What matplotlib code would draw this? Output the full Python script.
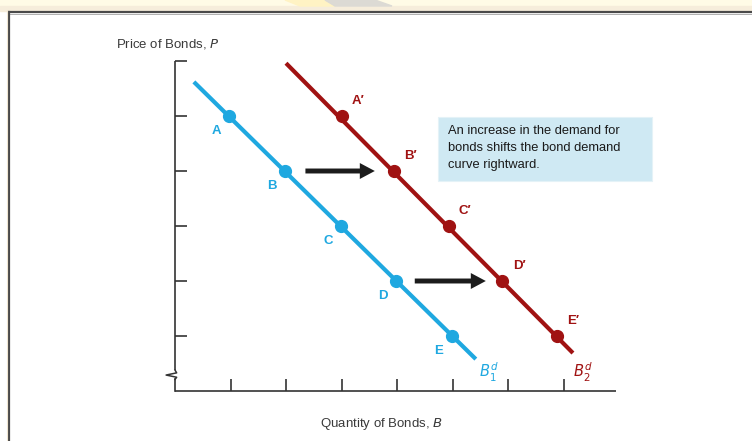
import numpy as np
import matplotlib
matplotlib.use("Agg")
import matplotlib.pyplot as plt
from matplotlib.patches import Rectangle, Polygon
from matplotlib.lines import Line2D

plt.rcParams['font.family'] = ['Liberation Sans', 'DejaVu Sans']

# demand points (quantity, price)
price_levels = [5, 4, 3, 2, 1]
qty_d1 = [0.98, 1.98, 2.99, 3.98, 4.99]
qty_d2 = [3.0, 3.95, 4.93, 5.9, 6.88]
labels_d1 = ['A', 'B', 'C', 'D', 'E']
labels_d2 = ['A\u2032', 'B\u2032', 'C\u2032', 'D\u2032', 'E\u2032']

# full extent of each demand curve
d1_line_q = [0.34, 5.42]
d1_line_p = [5.62, 0.58]
d2_line_q = [2.0, 7.17]
d2_line_p = [5.96, 0.69]

# shift arrows (start q, end q, price)
arrows = [(2.35, 3.6, 4), (4.32, 5.6, 2)]

x_ticks = [1, 2, 3, 4, 5, 6, 7]
y_ticks = [1, 2, 3, 4, 5, 6]

blue = '#1fa8e0'
red = '#a01212'
axis_col = '#333333'

W, H = 752, 441
x0_px, y0_px = 175, 391
sx, sy = 55.5, 55.0

fig = plt.figure(figsize=(W / 100, H / 100), dpi=100)
ax = fig.add_axes([0, 0, 1, 1])
ax.set_xlim(-x0_px / sx, (W - x0_px) / sx)
ax.set_ylim(-(H - y0_px) / sy, y0_px / sy)
ax.set_axis_off()

# page strip and frame
fig.add_artist(Rectangle((0, 1 - 6 / H), 1, 6 / H, transform=fig.transFigure,
                         color='#fffbe6', zorder=0))
fig.add_artist(Rectangle((0, 1 - 11 / H), 1, 5 / H, transform=fig.transFigure,
                         color='#f6eddb', zorder=0))
fig.add_artist(Polygon([(285 / W, 1), (325 / W, 1), (335 / W, 1 - 6 / H), (300 / W, 1 - 6 / H)],
                       closed=True, transform=fig.transFigure, color='#fff3c4', zorder=0))
fig.add_artist(Polygon([(325 / W, 1), (375 / W, 1), (392 / W, 1 - 6 / H), (335 / W, 1 - 6 / H)],
                       closed=True, transform=fig.transFigure, color='#dcdad4', zorder=0))
fig.add_artist(Line2D([9 / W, 1], [1 - 12 / H, 1 - 12 / H], transform=fig.transFigure,
                      color='#4a4a4a', lw=1.6))
fig.add_artist(Line2D([9 / W, 1], [1 - 13.8 / H, 1 - 13.8 / H], transform=fig.transFigure,
                      color='#b0b0b0', lw=0.7))
fig.add_artist(Line2D([9 / W, 9 / W], [0, 1 - 12 / H], transform=fig.transFigure,
                      color='#4a4a4a', lw=1.6))
fig.add_artist(Line2D([7 / W, 7 / W], [0, 1 - 11 / H], transform=fig.transFigure,
                      color='#f0e6d2', lw=0.8))

# axes with break mark
ax.plot([0, 0], [6, 0.38], color=axis_col, lw=1.2, solid_capstyle='butt')
ax.plot([0, 0.03, -0.16, 0.03, 0], [0.38, 0.33, 0.29, 0.25, 0.21], color=axis_col, lw=1.1)
ax.plot([0, 0], [0.21, 0], color=axis_col, lw=1.2)
ax.plot([0, 7.95], [0, 0], color=axis_col, lw=1.2, solid_capstyle='butt')
for t in y_ticks:
    ax.plot([0, 0.22], [t, t], color=axis_col, lw=1.2, solid_capstyle='butt')
for t in x_ticks:
    ax.plot([t, t], [0, 0.22], color=axis_col, lw=1.2, solid_capstyle='butt')

# demand curves
ax.plot(d1_line_q, d1_line_p, color=blue, lw=3.0, solid_capstyle='butt')
ax.plot(d2_line_q, d2_line_p, color=red, lw=3.0, solid_capstyle='butt')
ax.plot(qty_d1, price_levels, 'o', color=blue, ms=8.5)
ax.plot(qty_d2, price_levels, 'o', color=red, ms=8.5)

for q, p, lab in zip(qty_d1, price_levels, labels_d1):
    ax.annotate(lab, (q, p), xytext=(-9.5, -10.5), textcoords='offset points',
                ha='center', va='center', color=blue, fontsize=9.5, fontweight='bold')
for q, p, lab in zip(qty_d2, price_levels, labels_d2):
    ax.annotate(lab, (q, p), xytext=(12, 11), textcoords='offset points',
                ha='center', va='center', color=red, fontsize=9.5, fontweight='bold')

# shift arrows
for qs, qe, p in arrows:
    ax.arrow(qs, p, qe - qs, 0, width=0.09, head_width=0.29, head_length=0.27,
             length_includes_head=True, color='#1c1c1c', lw=0)

# curve names
ax.text(5.65, 0.33, r'$B^{d}_{1}$', color=blue, fontsize=10.5, ha='center', va='center')
ax.text(7.35, 0.33, r'$B^{d}_{2}$', color=red, fontsize=10.5, ha='center', va='center')

# annotation box
ax.add_patch(Rectangle((4.74, 3.82), 3.85, 1.16, facecolor='#cfe9f3', edgecolor='#e4f2f7',
                       lw=0.8))
ax.text(4.92, 4.84, 'An increase in the demand for\nbonds shifts the bond demand\ncurve rightward.',
        ha='left', va='top', fontsize=9.3, color='#1a1a1a', linespacing=1.58)

# axis titles
ax.text(-1.06, 6.31, 'Price of Bonds, $\\it{P}$', ha='left', va='center', fontsize=9.5,
        color='#3a3a3a')
ax.text(3.72, -0.6, 'Quantity of Bonds, $\\it{B}$', ha='center', va='center', fontsize=9.5,
        color='#3a3a3a')

fig.savefig('out.png', dpi=100)
